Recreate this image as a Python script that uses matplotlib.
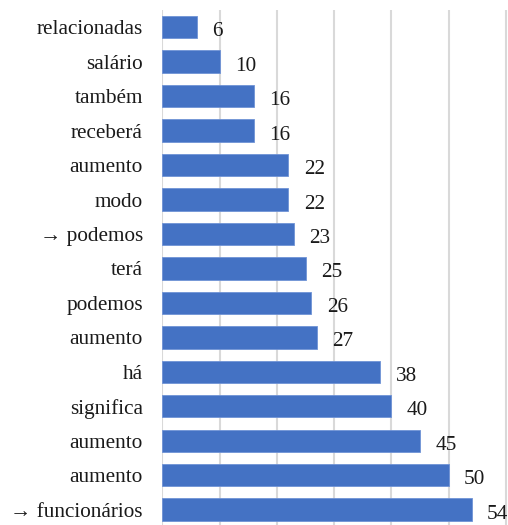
import matplotlib
matplotlib.use("Agg")
import matplotlib.pyplot as plt

plt.rcParams['font.family'] = ['Liberation Serif', 'DejaVu Serif']

words = ["relacionadas", "salário", "também", "receberá", "aumento", "modo",
         "→ podemos", "terá", "podemos", "aumento", "há", "significa",
         "aumento", "aumento", "→ funcionários"]
counts = [6, 10, 16, 16, 22, 22, 23, 25, 26, 27, 38, 40, 45, 50, 54]

W, H = 508, 525
fig = plt.figure(figsize=(W / 100, H / 100), dpi=100)
left = 162.3 / W
top = 1 - 10 / H
ax = fig.add_axes([left, 0, 1 - left, top])

pos = list(range(len(words)))
ax.barh(pos, counts, height=0.65, color="#4472C4", edgecolor="#6F93D6",
        linewidth=0.6, zorder=3)

# value labels sit a little below the bar centre
for y, v in zip(pos, counts):
    ax.text(v + 2.7, y + 0.13, str(v), va="center", ha="left", fontsize=15.3,
            color="#1a1a1a")

ax.set_yticks(pos)
ax.set_yticklabels(words, fontsize=15.3, color="#1a1a1a")
ax.tick_params(axis="y", length=0, pad=14)
ax.tick_params(axis="x", length=0, labelbottom=False)

px_per_unit = 343.7 / 60
ax.set_xlim(0, (W - 162.3) / px_per_unit)
ax.set_xticks(range(0, 61, 10))
ax.grid(axis="x", color="#D9D9D9", linewidth=1.5, zorder=0)

pitch = 34.46
span = top * H / pitch
ax.set_ylim(-0.5 + span, -0.5)

for s in ax.spines.values():
    s.set_visible(False)

fig.savefig("out.png", dpi=100)
